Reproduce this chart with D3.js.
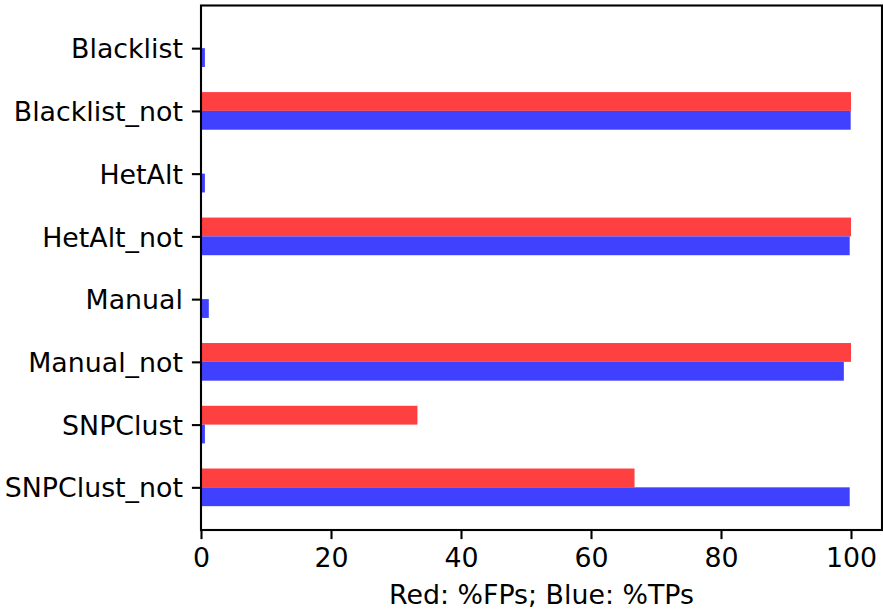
<!DOCTYPE html>
<html><head><meta charset="utf-8">
<script src="https://cdn.jsdelivr.net/npm/d3@7"></script>
<style>body{margin:0;background:#fff}svg text{font-family:"DejaVu Sans",sans-serif;fill:#000}</style>
</head><body>
<script>
const categories = ["Blacklist","Blacklist_not","HetAlt","HetAlt_not","Manual","Manual_not","SNPClust","SNPClust_not"];
const fpValues = [0, 100, 0, 100, 0, 100, 33.3, 66.7];
const tpValues = [0.6, 99.95, 0.6, 99.8, 1.2, 98.9, 0.6, 99.8];
const xTicks = [0, 20, 40, 60, 80, 100];
const xLabel = "Red: %FPs; Blue: %TPs";

const W = 883, H = 613;
const L = 201, R = 882, T = 5.5, B = 530;
const FS = 26.8;
const svg = d3.select("body").append("svg").attr("width", W).attr("height", H);

const x = d3.scaleLinear().domain([0, 104.77]).range([L, R]);
const y = d3.scaleLinear().domain([-0.68, categories.length - 1 + 0.68]).range([T, B]);
const bw = 0.3;

const g = svg.append("g");
categories.forEach((c, i) => {
  g.append("rect").attr("x", x(0)).attr("width", x(fpValues[i]) - x(0))
    .attr("y", y(i - bw)).attr("height", y(i) - y(i - bw)).attr("fill", "#ff4040");
  g.append("rect").attr("x", x(0)).attr("width", x(tpValues[i]) - x(0))
    .attr("y", y(i)).attr("height", y(i + bw) - y(i)).attr("fill", "#4040ff");
});

// frame
svg.append("rect").attr("x", L).attr("y", T).attr("width", R - L).attr("height", B - T)
  .attr("fill", "none").attr("stroke", "#000").attr("stroke-width", 2.1);

// x axis
const xa = d3.axisBottom(x).tickValues(xTicks).tickSize(9.1).tickPadding(9).tickFormat(d3.format("d"));
const xg = svg.append("g").attr("transform", `translate(0,${B})`).call(xa);
xg.select(".domain").remove();
xg.selectAll("line").attr("stroke", "#000").attr("stroke-width", 2.1);
xg.selectAll("text").attr("font-size", FS).attr("font-family", "DejaVu Sans").attr("fill", "#000");

// y axis
const ya = d3.axisLeft(y).tickValues(d3.range(categories.length)).tickSize(9.1).tickPadding(9)
  .tickFormat(i => categories[i]);
const yg = svg.append("g").attr("transform", `translate(${L},0)`).call(ya);
yg.select(".domain").remove();
yg.selectAll("line").attr("stroke", "#000").attr("stroke-width", 2.1);
yg.selectAll("text").attr("font-size", FS).attr("font-family", "DejaVu Sans").attr("fill", "#000")
  .attr("dy", "0.36em");

svg.append("text").attr("x", (L + R) / 2).attr("y", 604).attr("text-anchor", "middle")
  .attr("font-size", FS).text(xLabel);
</script>
</body></html>
